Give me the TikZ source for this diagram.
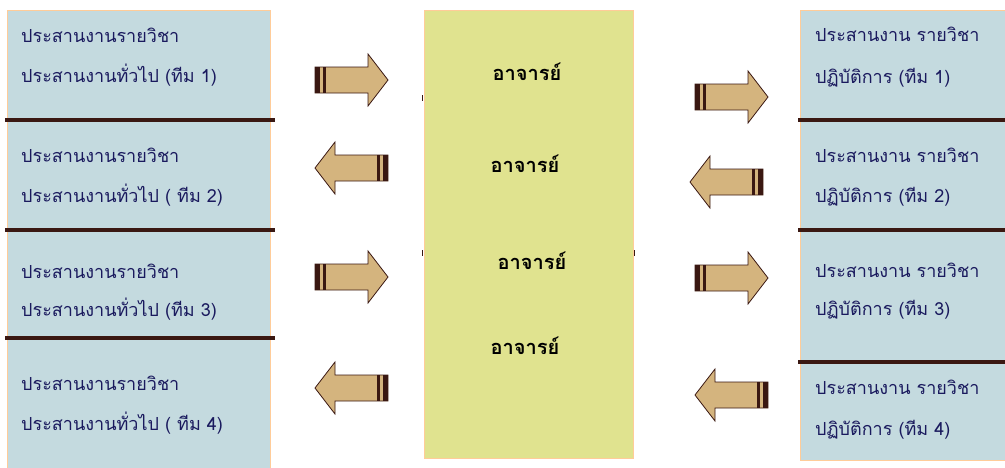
\documentclass[tikz,border=0pt]{standalone}
\usepackage{fontspec}
\newfontfamily\thaifont[Script=Thai]{Loma}
\definecolor{boxblue}{HTML}{C4DADF}
\definecolor{boxyellow}{HTML}{E0E38F}
\definecolor{peach}{HTML}{FFCC99}
\definecolor{bardark}{HTML}{3A1812}
\definecolor{arrowtan}{HTML}{D4B47E}
\definecolor{textnavy}{HTML}{1A1A5E}
\tikzset{
  colbox/.style={draw=peach, line width=1.2pt, inner sep=0pt, anchor=north west},
  sepline/.style={draw=bardark, line width=4pt},
  lbl/.style={inner sep=0pt, anchor=mid west, text=textnavy, font=\thaifont\fontsize{18}{21}\selectfont},
  tlbl/.style={inner sep=0pt, anchor=mid, text=black, font=\thaifont\bfseries\fontsize{20}{24}\selectfont},
  tickmark/.style={draw=bardark, line width=1.5pt},
  fatarrow/.pic={
    \path[fill=arrowtan, draw=bardark, line width=0.8pt]
      (0,-13) -- (53,-13) -- (53,-26) -- (73,0) -- (53,26) -- (53,13) -- (0,13) -- cycle;
    \fill[bardark] (0,-13) rectangle (5,13);
    \fill[bardark] (8,-13) rectangle (11,13);
  }
}
\begin{document}
\begin{tikzpicture}[x=1pt,y=-1pt]
\useasboundingbox (0,0) rectangle (1005,467);
\fill[white] (0,0) rectangle (1005,467);
% column boxes
\node[colbox, fill=boxblue, minimum width=263pt, minimum height=462pt] (leftcol) at (7,10) {};
\node[colbox, fill=boxyellow, minimum width=209pt, minimum height=448pt] (midcol) at (424,10) {};
\node[colbox, fill=boxblue, minimum width=210pt, minimum height=450pt] (rightcol) at (800,10) {};
% separators
\draw[sepline] (5,120) -- (275,120);
\draw[sepline] (5,230) -- (275,230);
\draw[sepline] (5,338) -- (275,338);
\draw[sepline] (798,120) -- (1005,120);
\draw[sepline] (798,230) -- (1005,230);
\draw[sepline] (798,362) -- (1005,362);
% tiny ticks on middle box
\draw[tickmark] (422.5,95) -- (422.5,101);
\draw[tickmark] (422.5,250) -- (422.5,256);
\draw[tickmark] (634.5,250) -- (634.5,256);
% left texts
\node[lbl] (l1a) at (21,40) {ประสานงานรายวิชา};
\node[lbl] (l1b) at (21,80) {ประสานงานทั่วไป (ทีม 1)};
\node[lbl] (l2a) at (21,160) {ประสานงานรายวิชา};
\node[lbl] (l2b) at (21,200) {ประสานงานทั่วไป ( ทีม  2)};
\node[lbl] (l3a) at (21,276) {ประสานงานรายวิชา};
\node[lbl] (l3b) at (21,314) {ประสานงานทั่วไป (ทีม  3)};
\node[lbl] (l4a) at (21,388) {ประสานงานรายวิชา};
\node[lbl] (l4b) at (21,428) {ประสานงานทั่วไป ( ทีม  4)};
% middle texts
\node[tlbl] (m1) at (527,78) {อาจารย์};
\node[tlbl] (m2) at (525,170) {อาจารย์};
\node[tlbl] (m3) at (532,267) {อาจารย์};
\node[tlbl] (m4) at (525,352) {อาจารย์};
% right texts
\node[lbl] (r1a) at (815,39) {ประสานงาน รายวิชา};
\node[lbl] (r1b) at (815,81) {ปฏิบัติการ  (ทีม 1)};
\node[lbl] (r2a) at (815,160) {ประสานงาน รายวิชา};
\node[lbl] (r2b) at (815,200) {ปฏิบัติการ (ทีม  2)};
\node[lbl] (r3a) at (815,275) {ประสานงาน รายวิชา};
\node[lbl] (r3b) at (815,313) {ปฏิบัติการ (ทีม  3)};
\node[lbl] (r4a) at (815,392) {ประสานงาน รายวิชา};
\node[lbl] (r4b) at (815,433) {ปฏิบัติการ (ทีม  4)};
% arrows
\pic at (315,80) {fatarrow};
\pic[xscale=-1] at (388,168) {fatarrow};
\pic at (315,277) {fatarrow};
\pic[xscale=-1] at (388,388) {fatarrow};
\pic at (695,97) {fatarrow};
\pic[xscale=-1] at (763,182) {fatarrow};
\pic at (695,278) {fatarrow};
\pic[xscale=-1] at (768,395) {fatarrow};
\end{tikzpicture}
\end{document}
